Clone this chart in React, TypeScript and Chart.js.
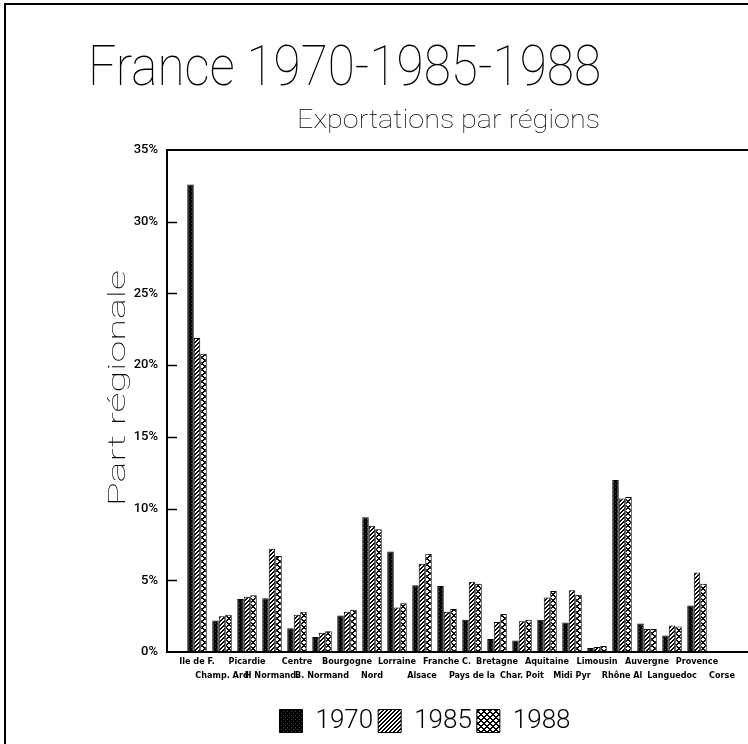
import React, { useEffect, useRef } from "react";
import { Chart, registerables } from "chart.js";

Chart.register(...registerables);

const categories = [
  "Ile de F.", "Champ. Ard", "Picardie", "H Normand.", "Centre", "B. Normand",
  "Bourgogne", "Nord", "Lorraine", "Alsace", "Franche C.", "Pays de la",
  "Bretagne", "Char. Poit", "Aquitaine", "Midi Pyr", "Limousin", "Rhône Al",
  "Auvergne", "Languedoc", "Provence", "Corse",
];
const seriesNames = ["1970", "1985", "1988"];
const values1970 = [32.6, 2.2, 3.7, 3.75, 1.65, 1.05, 2.55, 9.4, 7.0, 4.65, 4.6, 2.25, 0.9, 0.8, 2.25, 2.05, 0.28, 12.0, 1.98, 1.15, 3.25, 0];
const values1985 = [21.9, 2.5, 3.85, 7.2, 2.6, 1.35, 2.8, 8.8, 3.1, 6.15, 2.8, 4.9, 2.1, 2.15, 3.8, 4.3, 0.35, 10.7, 1.6, 1.85, 5.55, 0];
const values1988 = [20.8, 2.6, 3.95, 6.7, 2.8, 1.45, 2.95, 8.55, 3.4, 6.85, 3.0, 4.75, 2.65, 2.25, 4.25, 4.0, 0.42, 10.8, 1.6, 1.78, 4.75, 0];
const yTicks = [0, 5, 10, 15, 20, 25, 30, 35];

const TITLE = "France 1970-1985-1988";
const SUBTITLE = "Exportations par régions";
const Y_TITLE = "Part régionale";

const THIN = "Roboto";
const LABEL_FONT = "'DejaVu Sans Condensed', 'DejaVu Sans', sans-serif";

function makePattern(size: number, fn: (x: number, y: number) => string) {
  const c = document.createElement("canvas");
  c.width = size;
  c.height = size;
  const ctx = c.getContext("2d")!;
  for (let y = 0; y < size; y++) {
    for (let x = 0; x < size; x++) {
      ctx.fillStyle = fn(x, y);
      ctx.fillRect(x, y, 1, 1);
    }
  }
  return document.createElement("canvas").getContext("2d")!.createPattern(c, "repeat")!;
}

function drawFitted(ctx: CanvasRenderingContext2D, text: string, width: number, font: string) {
  ctx.font = font;
  const w = ctx.measureText(text).width;
  ctx.save();
  ctx.scale(width / w, 1);
  ctx.fillText(text, 0, 0);
  ctx.restore();
}

const decorPlugin = {
  id: "decor",
  beforeDraw(chart: any) {
    const { ctx, width, height } = chart;
    ctx.save();
    ctx.fillStyle = "#fff";
    ctx.fillRect(0, 0, width, height);
    ctx.strokeStyle = "#000";
    ctx.lineWidth = 2;
    ctx.beginPath();
    ctx.moveTo(5, height);
    ctx.lineTo(5, 4);
    ctx.lineTo(width, 4);
    ctx.stroke();
    ctx.restore();
  },
  afterDraw(chart: any) {
    const { ctx, chartArea, scales } = chart;
    ctx.save();
    ctx.fillStyle = "#000";
    ctx.textBaseline = "alphabetic";
    ctx.textAlign = "left";
    ctx.save();
    ctx.translate(88, 85);
    drawFitted(ctx, TITLE, 513, `100 56px ${THIN}`);
    ctx.restore();
    ctx.save();
    ctx.translate(297, 128);
    drawFitted(ctx, SUBTITLE, 303, `100 25px ${THIN}`);
    ctx.restore();
    ctx.save();
    ctx.translate(125, 506);
    ctx.rotate(-Math.PI / 2);
    drawFitted(ctx, Y_TITLE, 236, `100 24px ${THIN}`);
    ctx.restore();
    ctx.strokeStyle = "#000";
    ctx.lineWidth = 2;
    ctx.beginPath();
    ctx.moveTo(chartArea.left - 1, chartArea.top);
    ctx.lineTo(chart.width, chartArea.top);
    ctx.stroke();
    ctx.lineWidth = 1.5;
    yTicks.forEach((v) => {
      if (v === 0 || v === 35) return;
      const y = Math.round(scales.y.getPixelForValue(v)) + 0.5;
      ctx.beginPath();
      ctx.moveTo(chartArea.left, y);
      ctx.lineTo(chartArea.left + 10, y);
      ctx.stroke();
    });
    ctx.restore();
  },
};

export default function App() {
  const ref = useRef<HTMLCanvasElement>(null);
  useEffect(() => {
    document.body.style.margin = "0";
    const p1970 = makePattern(4, (x, y) => ((x === 1 && y === 1) || (x === 3 && y === 3) ? "#444" : "#000"));
    const p1985 = makePattern(4, (x, y) => ((x + y) % 4 < 2 ? "#000" : "#fff"));
    const p1988 = makePattern(6, (x, y) => ((x + y) % 6 < 2 || (((x - y) % 6) + 6) % 6 < 2 ? "#000" : "#fff"));
    const fills = [p1970, p1985, p1988];
    const series = [values1970, values1985, values1988];

    const chart = new Chart(ref.current!, {
      type: "bar",
      data: {
        datasets: series.map((vals, si) => ({
          label: seriesNames[si],
          data: vals.map((v, i) => ({ x: i, y: v })),
          backgroundColor: fills[si],
          borderColor: "#000",
          borderWidth: 1,
          borderSkipped: false,
          categoryPercentage: 0.78,
          barPercentage: 1,
        })),
      },
      options: {
        responsive: false,
        animation: false,
        devicePixelRatio: 1,
        layout: { padding: { left: 102, top: 150, right: 0, bottom: 0 } },
        scales: {
          x: {
            type: "linear",
            min: -1.2,
            max: 22.04,
            offset: false,
            grid: { display: false, drawTicks: false },
            border: { display: true, color: "#000", width: 2 },
            afterBuildTicks: (scale: any) => {
              scale.ticks = categories.map((_, i) => ({ value: i }));
            },
            afterFit: (scale: any) => {
              scale.height = 51;
            },
            ticks: {
              autoSkip: false,
              maxRotation: 0,
              minRotation: 0,
              padding: 3,
              color: "#000",
              font: { family: LABEL_FONT, size: 9, weight: "bold", lineHeight: 1.55 },
              callback: (value: any) => {
                const i = Math.round(value);
                const lab = categories[i] ?? "";
                return i % 2 === 0 ? [lab, ""] : ["", lab];
              },
            },
          },
          y: {
            min: 0,
            max: 35,
            grid: { display: false, drawTicks: false },
            border: { display: true, color: "#000", width: 2 },
            afterBuildTicks: (scale: any) => {
              scale.ticks = yTicks.map((v) => ({ value: v }));
            },
            afterFit: (scale: any) => {
              scale.width = 65;
            },
            ticks: {
              padding: 9,
              color: "#000",
              font: { family: "Roboto", size: 13, weight: "500" },
              callback: (v: any) => `${v}%`,
            },
          },
        },
        plugins: {
          title: { display: false },
          tooltip: { enabled: false },
          legend: {
            display: true,
            position: "bottom",
            labels: {
              boxWidth: 23,
              boxHeight: 23,
              padding: 5,
              color: "#000",
              font: { family: "Roboto", size: 26, weight: "300" },
            },
          },
        },
      },
      plugins: [decorPlugin],
    } as any);
    return () => chart.destroy();
  }, []);
  return (
    <div style={{ position: "fixed", left: 0, top: 0, width: 748, height: 744, background: "#fff" }}>
      <canvas ref={ref} width={748} height={744} style={{ display: "block", width: 748, height: 744 }} />
    </div>
  );
}
